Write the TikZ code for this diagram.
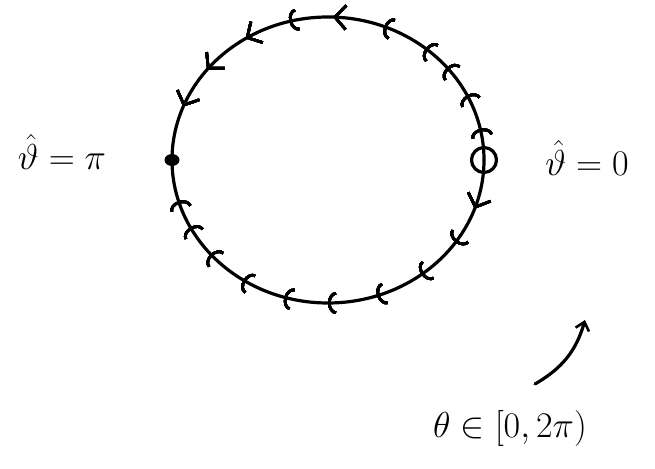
\documentclass[tikz,border=0pt]{standalone}
\usetikzlibrary{arrows.meta,decorations.markings}
\begin{document}
\begin{tikzpicture}[x=1pt,y=1pt,line cap=round,line join=round,
  ink/.style={line width=3.2pt,black},
  lbl/.style={font=\Huge,inner sep=0pt,scale=1.45},
  ab/.style={decoration={markings,mark=at position #1 with {\arrow{Arc Barb[length=8pt,width=22pt,line width=2.6pt]}}},postaction={decorate}},
  sb/.style={decoration={markings,mark=at position #1 with {\arrow{Straight Barb[length=11pt,width=24pt,line width=2.6pt]}}},postaction={decorate}}]
\useasboundingbox (0,0) rectangle (655,468);
\coordinate (c) at (328,308);
\coordinate (r) at (484,308);
\coordinate (l) at (172,308);
% upper half, from theta=0 (right) to theta=pi (left)
\draw[ink,ab=0.067,ab=0.144,ab=0.217,ab=0.278,ab=0.378,sb=0.489,ab=0.583,sb=0.683,sb=0.789,sb=0.883]
  (r) arc[start angle=0,end angle=180,x radius=156,y radius=143];
% lower half, from theta=0 (right) to theta=pi (left)
\draw[ink,sb=0.106,ab=0.189,ab=0.289,ab=0.394,ab=0.5,ab=0.594,ab=0.689,ab=0.778,ab=0.85,ab=0.911]
  (r) arc[start angle=0,end angle=-180,x radius=156,y radius=143];
% endpoints
\fill (l) ellipse[x radius=7.5,y radius=6];
\node[draw,ink,circle,minimum size=25pt,inner sep=0pt] (o) at (r) {};
% labels
\node[lbl] (lt) at (62,316) {$\hat{\vartheta}=\pi$};
\node[lbl] (rt) at (587,310) {$\hat{\vartheta}=0$};
\node[lbl] (bt) at (510,40) {$\theta\in[0,2\pi)$};
\coordinate (a0) at (535,84);
\coordinate (a1) at (585,148);
\draw[ink,-{Straight Barb[length=8pt,width=14pt,line width=2.6pt]}] (a0) to[bend right=22] (a1);
\end{tikzpicture}
\end{document}
